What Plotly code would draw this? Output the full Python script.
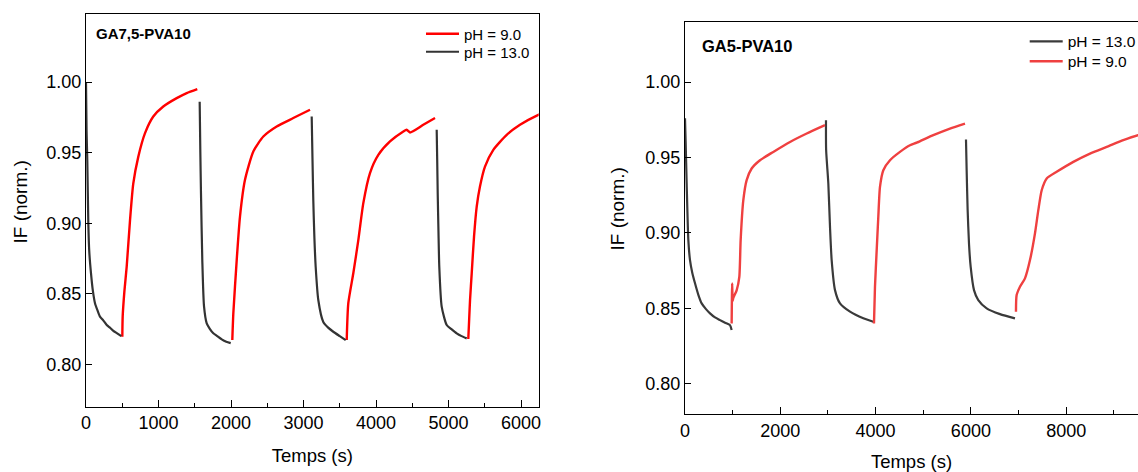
import plotly.graph_objects as go

# ---------------- data ----------------
# Left panel: GA7,5-PVA10
ga75_ph9_t = [501, 506, 530, 561, 607, 652, 721, 814, 928, 1066, 1251, 1389, 1535, None,
              2018, 2032, 2079, 2124, 2193, 2308, 2446, 2630, 2859, 3090, None,
              3596, 3618, 3687, 3756, 3825, 3917, 4032, 4193, 4377, 4423, 4469, 4652, 4814, None,
              5273, 5285, 5297, 5320, 5352, 5389, 5434, 5503, 5618, 5803, 5986, 6239, 6300]
ga75_ph9_if = [0.8195, 0.834, 0.852, 0.869, 0.902, 0.928, 0.947, 0.9638, 0.9756, 0.9827, 0.9886, 0.9922, 0.995, None,
               0.8172, 0.836, 0.874, 0.9047, 0.9307, 0.9508, 0.9614, 0.9685, 0.9745, 0.9804, None,
               0.8172, 0.8433, 0.8645, 0.888, 0.9142, 0.9355, 0.9484, 0.9579, 0.965, 0.9662, 0.9643, 0.9697, 0.9745, None,
               0.818, 0.832, 0.8456, 0.8645, 0.8905, 0.9118, 0.926, 0.9401, 0.952, 0.9626, 0.9697, 0.9768, 0.978]

ga75_ph13_t = [0, 8, 18, 32, 45, 69, 95, 124, 160, 193, 240, 286, 330, 377, 430, 487, None,
               1568, 1577, 1586, 1604, 1628, 1665, 1710, 1756, 1810, 1872, 1935, 1996, None,
               3113, 3124, 3135, 3150, 3168, 3204, 3273, 3340, 3411, 3500, 3582, None,
               4837, 4844, 4851, 4862, 4873, 4906, 4975, 5040, 5113, 5180, 5251]
ga75_ph13_if = [1.000, 0.965, 0.944, 0.900, 0.880, 0.8645, 0.852, 0.8433, 0.838, 0.8338, 0.831, 0.8279, 0.826, 0.8238, 0.822, 0.820, None,
                0.986, 0.950, 0.921, 0.874, 0.841, 0.829, 0.825, 0.822, 0.820, 0.8177, 0.816, 0.815, None,
                0.9756, 0.945, 0.9165, 0.890, 0.869, 0.8456, 0.830, 0.826, 0.8231, 0.820, 0.8172, None,
                0.9662, 0.945, 0.921, 0.893, 0.869, 0.8409, 0.8279, 0.825, 0.822, 0.820, 0.8184]

# Right panel: GA5-PVA10
ga5_ph13_t = [0, 14, 35, 70, 105, 150, 210, 280, 350, 440, 525, 630, 735, 840, 944, 979, None,
              2959, 2962, 3008, 3043, 3078, 3148, 3253, 3463, 3742, 3952, None,
              5897, 5911, 5932, 5960, 5995, 6065, 6155, 6331, 6611, 6925]
ga5_ph13_if = [0.976, 0.960, 0.9328, 0.8952, 0.882, 0.874, 0.8666, 0.859, 0.8533, 0.8495, 0.8467, 0.844, 0.8422, 0.8405, 0.8389, 0.8356, None,
               0.9747, 0.955, 0.9328, 0.904, 0.882, 0.8621, 0.8533, 0.8478, 0.8434, 0.8411, None,
               0.9619, 0.9416, 0.9151, 0.893, 0.8776, 0.8621, 0.8555, 0.850, 0.8462, 0.8434]

ga5_ph9_t = [979, 990, 1000, 1014, 1084, 1140, 1168, 1224, 1294, 1399, 1574, 1853, 2204, 2554, 2938, None,
             3966, 3987, 4023, 4057, 4092, 4162, 4302, 4512, 4722, 4862, 5211, 5561, 5876, None,
             6946, 6960, 7030, 7135, 7240, 7345, 7415, 7486, 7591, 7800, 8150, 8500, 8850, 9199, 9507, 9600]
ga5_ph9_if = [0.840, 0.8666, 0.855, 0.857, 0.862, 0.8709, 0.8952, 0.9217, 0.935, 0.9427, 0.9482, 0.9537, 0.9603, 0.9659, 0.9714, None,
              0.840, 0.8643, 0.8886, 0.9107, 0.9305, 0.9416, 0.9482, 0.9537, 0.9581, 0.9598, 0.9648, 0.9692, 0.9725, None,
              0.8478, 0.8588, 0.8643, 0.8699, 0.882, 0.8997, 0.9151, 0.9283, 0.9361, 0.9405, 0.9471, 0.9526, 0.957, 0.9615, 0.9648, 0.9655]

y_tickvals = [0.80, 0.85, 0.90, 0.95, 1.00]

# ---------------- figure ----------------
W, H = 1138, 472
FONT = "Liberation Sans, Arial, sans-serif"
RED_L, BLACK_L = "#ff0000", "#333333"
RED_R, BLACK_R = "#ef4040", "#3a3a3a"
SMOOTH = 0.6

fig = go.Figure()
fig.add_trace(go.Scatter(x=ga75_ph9_t, y=ga75_ph9_if, mode="lines", name="pH = 9.0", showlegend=True,
                         line=dict(color=RED_L, width=2.4, shape="spline", smoothing=SMOOTH),
                         xaxis="x", yaxis="y", legend="legend"))
fig.add_trace(go.Scatter(x=ga75_ph13_t, y=ga75_ph13_if, mode="lines", name="pH = 13.0", showlegend=True,
                         line=dict(color=BLACK_L, width=2.2, shape="spline", smoothing=SMOOTH),
                         xaxis="x", yaxis="y", legend="legend3"))
fig.add_trace(go.Scatter(x=ga5_ph13_t, y=ga5_ph13_if, mode="lines", name="pH = 13.0", showlegend=True,
                         line=dict(color=BLACK_R, width=2.2, shape="spline", smoothing=SMOOTH),
                         xaxis="x2", yaxis="y2", legend="legend2"))
fig.add_trace(go.Scatter(x=ga5_ph9_t, y=ga5_ph9_if, mode="lines", name="pH = 9.0", showlegend=True,
                         line=dict(color=RED_R, width=2.4, shape="spline", smoothing=SMOOTH),
                         xaxis="x2", yaxis="y2", legend="legend4"))

axis_common = dict(showline=True, linecolor="black", linewidth=1.3, showgrid=False, zeroline=False,
                   tickcolor="black", tickwidth=1.3, tickfont=dict(family=FONT, size=18, color="black"),
                   automargin=False)


def px_x(p):
    return p / W


def px_y(p):
    return 1 - p / H


def legend_at(x, y, size):
    return dict(x=px_x(x), y=px_y(y), xanchor="left", yanchor="middle", bgcolor="rgba(0,0,0,0)",
                font=dict(family=FONT, size=size, color="black"), borderwidth=0, itemwidth=33,
                visible=True)


fig.update_layout(
    width=W, height=H, template="none", showlegend=True,
    paper_bgcolor="white", plot_bgcolor="white",
    margin=dict(l=0, r=0, t=0, b=0, autoexpand=False),
    font=dict(family=FONT, color="black"),
    xaxis=dict(axis_common, domain=[px_x(86), px_x(538.7)], range=[0, 6244], anchor="y", mirror=True,
               ticks="inside", ticklen=7, tick0=0, dtick=1000,
               minor=dict(ticks="inside", ticklen=4, dtick=500, tick0=0, tickcolor="black", tickwidth=1.3),
               title=dict(text="Temps (s)", font=dict(family=FONT, size=18.5), standoff=16)),
    yaxis=dict(axis_common, domain=[px_y(406.7), px_y(14.3)], range=[0.770, 1.048], anchor="x", mirror=True,
               ticks="inside", ticklen=6, tickvals=y_tickvals, tickformat=".2f"),
    yaxis3=dict(overlaying="y", anchor="x", side="left", range=[0.770, 1.048], tickvals=y_tickvals,
                ticks="outside", ticklen=5, tickwidth=1.3, tickcolor="black", showticklabels=False,
                showline=False, showgrid=False, zeroline=False),
    xaxis2=dict(axis_common, domain=[px_x(685), 1.0], range=[0, 9507], anchor="y2", mirror=True,
                ticks="inside", ticklen=7, tick0=0, dtick=2000,
                minor=dict(ticks="inside", ticklen=4, dtick=1000, tick0=0, tickcolor="black", tickwidth=1.3),
                title=dict(text="Temps (s)", font=dict(family=FONT, size=18.5), standoff=21)),
    yaxis2=dict(axis_common, domain=[px_y(414), px_y(21.7)], range=[0.780, 1.040], anchor="x2", mirror=False,
                ticks="inside", ticklen=6, tickvals=y_tickvals, tickformat=".2f"),
    yaxis4=dict(overlaying="y2", anchor="x2", side="left", range=[0.780, 1.040], tickvals=y_tickvals,
                ticks="outside", ticklen=5, tickwidth=1.3, tickcolor="black", showticklabels=False,
                showline=False, showgrid=False, zeroline=False),
    legend=legend_at(421, 34, 15),
    legend3=legend_at(421, 52, 15),
    legend2=legend_at(1024.7, 41.7, 15.5),
    legend4=legend_at(1024.7, 61.7, 15.5),
    annotations=[
        dict(text="<b>GA7,5-PVA10</b>", xref="paper", yref="paper", x=px_x(94), y=px_y(33.3),
             xanchor="left", yanchor="middle", showarrow=False, font=dict(family=FONT, size=15)),
        dict(text="<b>GA5-PVA10</b>", xref="paper", yref="paper", x=px_x(700), y=px_y(46),
             xanchor="left", yanchor="middle", showarrow=False, font=dict(family=FONT, size=16.5)),
        dict(text="IF (norm.)", xref="paper", yref="paper", x=px_x(20), y=px_y(202.5), textangle=-90,
             xanchor="center", yanchor="middle", showarrow=False, font=dict(family=FONT, size=19)),
        dict(text="IF (norm.)", xref="paper", yref="paper", x=px_x(617), y=px_y(209.5), textangle=-90,
             xanchor="center", yanchor="middle", showarrow=False, font=dict(family=FONT, size=19)),
    ],
)

fig.write_html("out.html", config={"displayModeBar": False},
               post_script="document.body.style.margin='0';document.body.style.overflow='hidden';")
